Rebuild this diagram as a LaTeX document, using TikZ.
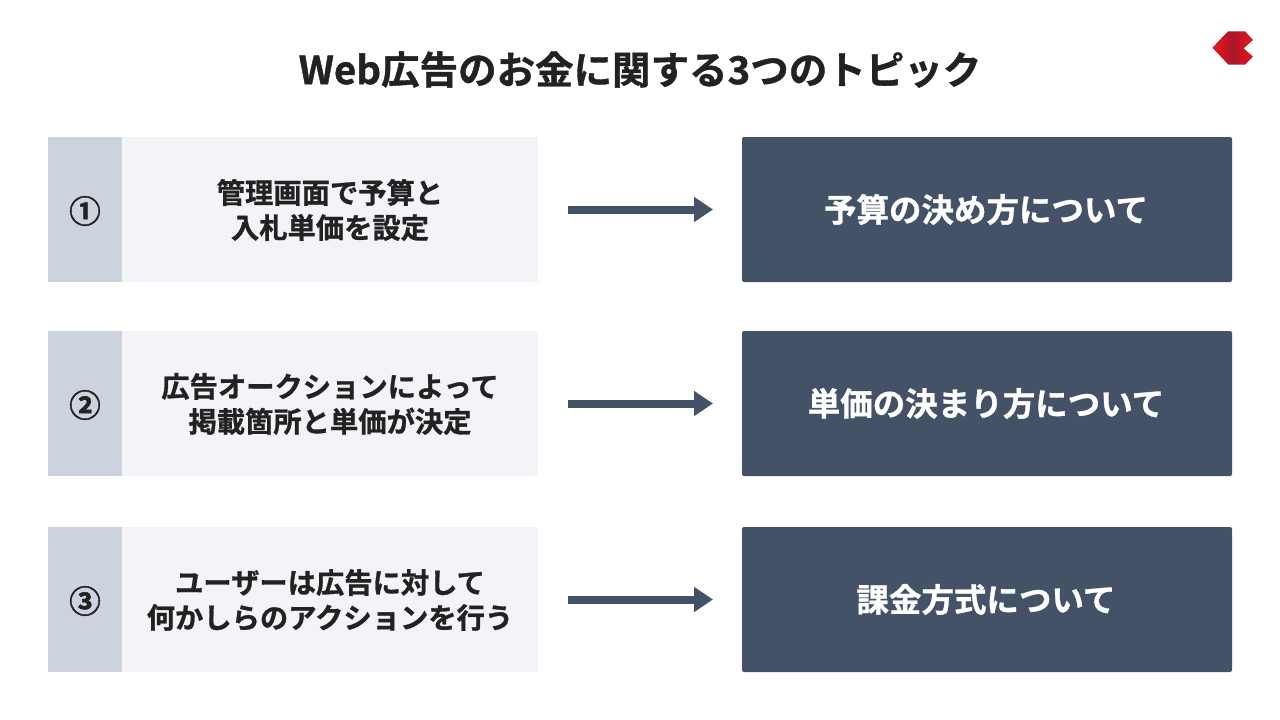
\documentclass[tikz,border=0pt]{standalone}
\usepackage{fontspec}
\setmainfont{Noto Sans CJK JP}[BoldFont={Noto Sans CJK JP Bold},BoldFeatures={FakeBold=1}]
\newfontfamily\circfont{Noto Sans CJK JP Bold}[FakeBold=1.5]
\usetikzlibrary{arrows.meta,positioning}
\definecolor{ink}{HTML}{222222}
\definecolor{slate}{HTML}{435266}
\definecolor{numbg}{HTML}{CCD3DF}
\definecolor{lightbg}{HTML}{F2F4F8}
\definecolor{logoA}{HTML}{F0101C}
\definecolor{logoB}{HTML}{A8182A}
\tikzset{
  x=1pt,y=-1pt,
  every node/.style={inner sep=0pt,outer sep=0pt},
  numbox/.style={fill=numbg,minimum width=74pt,minimum height=145pt},
  numtext/.style={text=ink,font=\circfont\fontsize{31.5}{31.5}\selectfont},
  textbox/.style={fill=lightbg,minimum width=416pt,minimum height=145pt},
  boxtext/.style={text=ink,align=center,font=\bfseries\fontsize{28.3}{35}\selectfont},
  resultbox/.style={fill=slate,rounded corners=2pt,minimum width=490pt,minimum height=145pt},
  resulttext/.style={text=white,font=\bfseries\fontsize{32.5}{32}\selectfont},
  flow/.style={draw=slate,line width=8pt,-{Triangle[length=19pt,width=24pt,fill=slate]},shorten <=30pt,shorten >=29pt},
  title/.style={text=ink,font=\bfseries\fontsize{38.5}{38}\selectfont}
}
\begin{document}
\begin{tikzpicture}
\useasboundingbox (0,0) rectangle (1280,720);
\fill[white] (0,0) rectangle (1280,720);
\node[title] (title) at (640,69.5) {Web広告のお金に関する3つのトピック};
\fill[left color=logoA,right color=logoA,middle color=logoB] (1212.7,47.7) -- (1228,31.7) -- (1245,31.7) -- (1252.7,40) -- (1243.3,48.3) -- (1252.7,56.7) -- (1245,64.3) -- (1228.3,64.3) -- cycle;

\node[textbox] (t1) at (330,209.5) {};
\node[boxtext] (l1) at (330,210) {管理画面で予算と\\入札単価を設定};
\node[numbox] (n1) at (85,209.5) {};
\node[numtext] (c1) at (85,211) {①};
\node[resultbox] (r1) at (987,209.5) {};
\node[resulttext] (s1) at (986,209.5) {予算の決め方について};
\draw[flow] (t1.east) -- (r1.west);

\node[textbox] (t2) at (330,403.5) {};
\node[boxtext] (l2) at (330,404) {広告オークションによって\\掲載箇所と単価が決定};
\node[numbox] (n2) at (85,403.5) {};
\node[numtext] (c2) at (85,405) {②};
\node[resultbox] (r2) at (987,403.5) {};
\node[resulttext] (s2) at (986,403.5) {単価の決まり方について};
\draw[flow] (t2.east) -- (r2.west);

\node[textbox] (t3) at (330,599.5) {};
\node[boxtext] (l3) at (330,600) {ユーザーは広告に対して\\何かしらのアクションを行う};
\node[numbox] (n3) at (85,599.5) {};
\node[numtext] (c3) at (85,601) {③};
\node[resultbox] (r3) at (987,599.5) {};
\node[resulttext] (s3) at (986,599.5) {課金方式について};
\draw[flow] (t3.east) -- (r3.west);
\end{tikzpicture}
\end{document}
